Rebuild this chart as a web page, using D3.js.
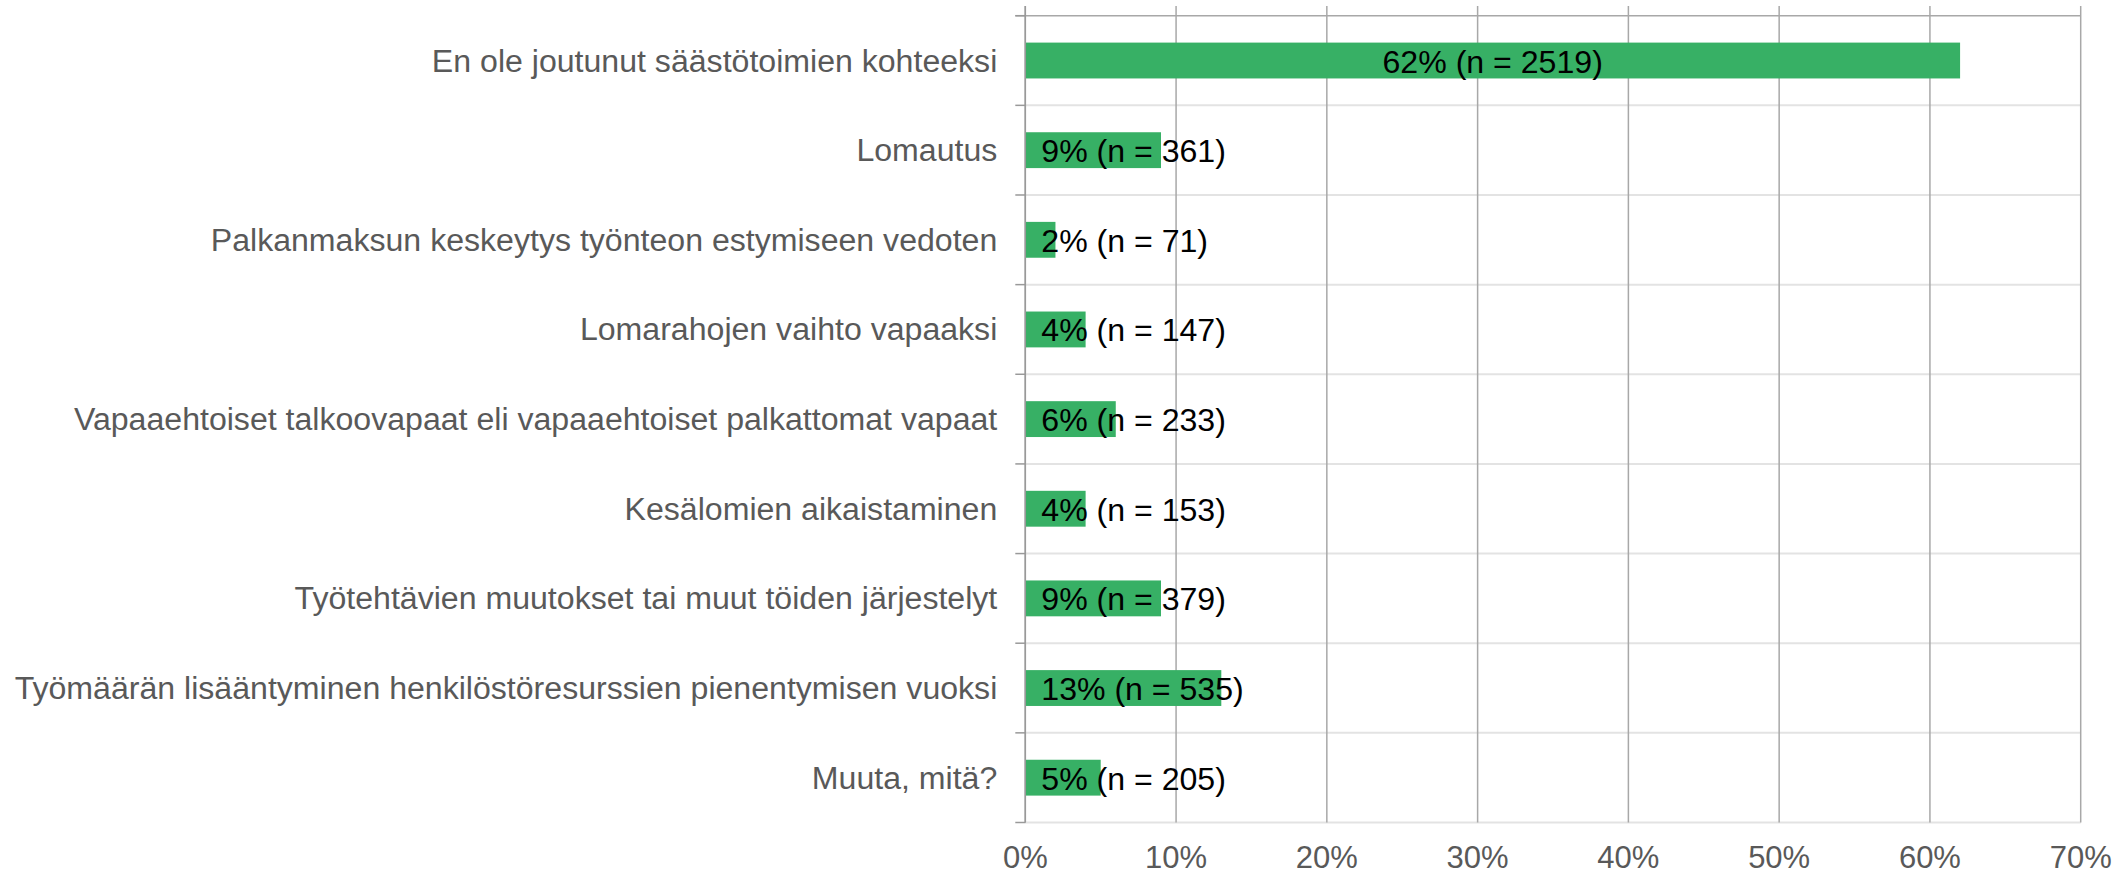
<!DOCTYPE html>
<html>
<head>
<meta charset="utf-8">
<script src="https://cdn.jsdelivr.net/npm/d3@7/dist/d3.min.js"></script>
<style>
  html, body { margin: 0; padding: 0; background: #fff; }
  svg { display: block; }
  text { font-family: "Liberation Sans", Arial, sans-serif; }
</style>
</head>
<body>
<svg id="chart" width="2126" height="875"></svg>
<script>
const categories = [
  "En ole joutunut säästötoimien kohteeksi",
  "Lomautus",
  "Palkanmaksun keskeytys työnteon estymiseen vedoten",
  "Lomarahojen vaihto vapaaksi",
  "Vapaaehtoiset talkoovapaat eli vapaaehtoiset palkattomat vapaat",
  "Kesälomien aikaistaminen",
  "Työtehtävien muutokset tai muut töiden järjestelyt",
  "Työmäärän lisääntyminen henkilöstöresurssien pienentymisen vuoksi",
  "Muuta, mitä?"
];
const percentValues = [62, 9, 2, 4, 6, 4, 9, 13, 5];
const countValues = [2519, 361, 71, 147, 233, 153, 379, 535, 205];
const tickValues = [0, 10, 20, 30, 40, 50, 60, 70];

(function () {
const svg = d3.select("#chart");
const plotLeft = 1025.3, plotRight = 2080.7, plotTop = 15.7, plotBottom = 822.5, gridTop = 6;
const stretch = 1.035;

const x = d3.scaleLinear().domain([0, 70]).range([plotLeft, plotRight]);
const y = d3.scaleBand().domain(categories).range([plotTop, plotBottom]).paddingInner(0.6).paddingOuter(0.3);
const step = y.step();

function widen(sel) {
  sel.each(function () {
    const w = this.getComputedTextLength();
    d3.select(this).attr("textLength", w * stretch).attr("lengthAdjust", "spacingAndGlyphs");
  });
}

const boundaries = d3.range(categories.length + 1).map(i => plotTop + i * step);
svg.append("g").selectAll("line").data(boundaries.slice(1)).join("line")
  .attr("x1", plotLeft).attr("x2", plotRight)
  .attr("y1", d => d).attr("y2", d => d)
  .attr("stroke", "#e3e3e3").attr("stroke-width", 2);

svg.append("g").selectAll("line").data(tickValues).join("line")
  .attr("x1", d => x(d)).attr("x2", d => x(d))
  .attr("y1", gridTop).attr("y2", plotBottom)
  .attr("stroke", "#a8a8a8").attr("stroke-width", 1.5);

svg.append("line")
  .attr("x1", plotLeft - 10).attr("x2", plotRight)
  .attr("y1", plotTop).attr("y2", plotTop)
  .attr("stroke", "#a8a8a8").attr("stroke-width", 1.5);

svg.append("g").selectAll("line").data(boundaries).join("line")
  .attr("x1", plotLeft - 10).attr("x2", plotLeft)
  .attr("y1", d => d).attr("y2", d => d)
  .attr("stroke", "#999").attr("stroke-width", 1.5);

const data = categories.map((c, i) => ({ c, p: percentValues[i], n: countValues[i] }));
svg.append("g").selectAll("rect").data(data).join("rect")
  .attr("x", x(0)).attr("y", d => y(d.c))
  .attr("width", d => x(d.p) - x(0)).attr("height", y.bandwidth())
  .attr("fill", "#37b065");

svg.append("line")
  .attr("x1", plotLeft).attr("x2", plotLeft)
  .attr("y1", gridTop).attr("y2", plotBottom)
  .attr("stroke", "#999").attr("stroke-width", 1.5);

const cat = svg.append("g").selectAll("text").data(categories).join("text")
  .attr("x", plotLeft - 28)
  .attr("y", d => y(d) + y.bandwidth() / 2 + 11)
  .attr("text-anchor", "end")
  .attr("font-size", 31)
  .attr("fill", "#595959")
  .text(d => d);
widen(cat);

const lbl = svg.append("g").selectAll("text").data(data).join("text")
  .attr("y", d => y(d.c) + y.bandwidth() / 2 + 12)
  .attr("font-size", 31)
  .attr("fill", "#000")
  .text(d => `${d.p}% (n = ${d.n})`);
lbl.each(function (d) {
  const w = this.getComputedTextLength() * stretch;
  const bw = x(d.p) - x(0);
  d3.select(this).attr("textLength", w).attr("lengthAdjust", "spacingAndGlyphs");
  if (w + 32 <= bw) {
    d3.select(this).attr("x", x(0) + bw / 2).attr("text-anchor", "middle");
  } else {
    d3.select(this).attr("x", x(0) + 16).attr("text-anchor", "start");
  }
});

svg.append("g").selectAll("text").data(tickValues).join("text")
  .attr("x", d => x(d)).attr("y", 868)
  .attr("text-anchor", "middle")
  .attr("font-size", 31)
  .attr("fill", "#595959")
  .text(d => d + "%");
})();
</script>
</body>
</html>
